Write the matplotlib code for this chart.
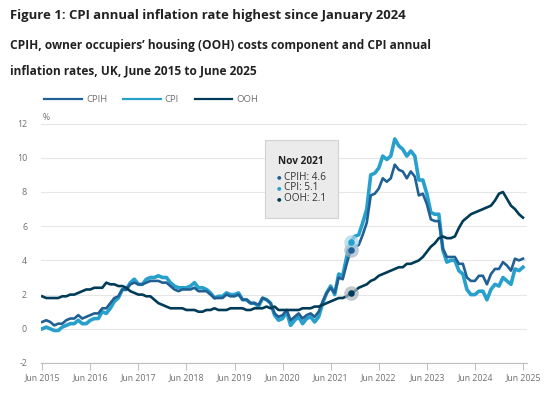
import numpy as np
import matplotlib
matplotlib.use("Agg")
import matplotlib.pyplot as plt
from matplotlib.lines import Line2D
from matplotlib.patches import Rectangle

plt.rcParams['font.family'] = ['Open Sans', 'DejaVu Sans']

# monthly values, Jun 2015 to Jun 2025
cpih = [0.4, 0.5, 0.4, 0.2, 0.3, 0.3, 0.5,
        0.6, 0.6, 0.8, 0.6, 0.7, 0.8, 0.9, 0.9, 1.2, 1.2, 1.5, 1.8,
        1.9, 2.3, 2.3, 2.6, 2.7, 2.6, 2.6, 2.7, 2.8, 2.8, 2.8, 2.7,
        2.7, 2.5, 2.3, 2.2, 2.3, 2.3, 2.3, 2.4, 2.2, 2.2, 2.2, 2.0,
        1.8, 1.8, 1.8, 2.0, 1.9, 1.9, 2.0, 1.7, 1.7, 1.5, 1.5, 1.4,
        1.8, 1.7, 1.5, 0.9, 0.7, 0.8, 1.1, 0.5, 0.7, 0.9, 0.6, 0.8,
        0.9, 0.7, 1.0, 1.6, 2.1, 2.4, 2.1, 3.0, 2.9, 3.8, 4.6, 4.8,
        4.9, 5.5, 6.2, 7.8, 7.9, 8.2, 8.8, 8.6, 8.8, 9.6, 9.3, 9.2,
        8.8, 9.2, 8.9, 7.8, 7.9, 7.3, 6.4, 6.3, 6.3, 4.7, 4.2, 4.2,
        4.2, 3.8, 3.8, 3.0, 2.8, 2.8, 3.1, 3.1, 2.6, 3.2, 3.5, 3.5,
        3.9, 3.7, 3.4, 4.1, 4.0, 4.1]
cpi = [0.0, 0.1, 0.0, -0.1, -0.1, 0.1, 0.2,
       0.3, 0.3, 0.5, 0.3, 0.3, 0.5, 0.6, 0.6, 1.0, 0.9, 1.2, 1.6,
       1.8, 2.3, 2.3, 2.7, 2.9, 2.6, 2.6, 2.9, 3.0, 3.0, 3.1, 3.0,
       3.0, 2.7, 2.5, 2.4, 2.4, 2.4, 2.5, 2.7, 2.4, 2.4, 2.3, 2.1,
       1.8, 1.9, 1.9, 2.1, 2.0, 2.0, 2.1, 1.7, 1.7, 1.5, 1.5, 1.3,
       1.8, 1.7, 1.5, 0.8, 0.5, 0.6, 1.0, 0.2, 0.5, 0.7, 0.3, 0.6,
       0.7, 0.4, 0.7, 1.5, 2.1, 2.5, 2.0, 3.2, 3.1, 4.2, 5.1, 5.4,
       5.5, 6.2, 7.0, 9.0, 9.1, 9.4, 10.1, 9.9, 10.1, 11.1, 10.7, 10.5,
       10.1, 10.4, 10.1, 8.7, 8.7, 7.9, 6.8, 6.7, 6.7, 4.6, 3.9, 4.0,
       4.0, 3.4, 3.2, 2.3, 2.0, 2.0, 2.2, 2.2, 1.7, 2.3, 2.6, 2.5,
       3.0, 2.8, 2.6, 3.5, 3.4, 3.6]
ooh = [1.9, 1.8, 1.8, 1.8, 1.8, 1.9, 1.9,
       2.0, 2.0, 2.1, 2.2, 2.3, 2.3, 2.4, 2.4, 2.4, 2.7, 2.6, 2.6,
       2.5, 2.5, 2.4, 2.2, 2.1, 2.0, 2.0, 1.9, 1.9, 1.7, 1.5, 1.4,
       1.3, 1.2, 1.2, 1.2, 1.2, 1.1, 1.1, 1.1, 1.0, 1.0, 1.1, 1.1,
       1.2, 1.1, 1.1, 1.1, 1.2, 1.2, 1.2, 1.2, 1.1, 1.1, 1.2, 1.2,
       1.2, 1.3, 1.2, 1.3, 1.1, 1.1, 1.1, 1.1, 1.1, 1.1, 1.2, 1.2,
       1.2, 1.3, 1.3, 1.4, 1.5, 1.6, 1.7, 1.8, 1.8, 1.9, 2.1, 2.2,
       2.4, 2.5, 2.6, 2.8, 2.9, 3.1, 3.2, 3.3, 3.4, 3.5, 3.6, 3.6,
       3.8, 3.8, 3.9, 4.0, 4.2, 4.5, 4.8, 5.0, 5.3, 5.4, 5.3, 5.3,
       5.4, 5.9, 6.3, 6.5, 6.7, 6.8, 6.9, 7.0, 7.1, 7.2, 7.5, 7.9,
       8.0, 7.6, 7.2, 7.0, 6.7, 6.5]

tick_labels = ["Jun %d" % y for y in range(2015, 2026)]
y_ticks = [-2, 0, 2, 4, 6, 8, 10, 12]

hover_idx = 77  # Nov 2021
hover_label = "Nov 2021"

c_cpih = "#206095"
c_cpi = "#27a0cc"
c_ooh = "#003c57"
grey = "#707070"

months = np.arange(len(cpi))

fig = plt.figure(figsize=(5.5, 3.97), dpi=100)
ax = fig.add_axes([41 / 550, 1 - 363 / 397, 486 / 550, 239.4 / 397])

ax.plot(months, cpi, color=c_cpi, lw=2.6, solid_joinstyle="round", zorder=3)
ax.plot(months, cpih, color=c_cpih, lw=1.9, solid_joinstyle="round", zorder=4)
ax.plot(months, ooh, color=c_ooh, lw=1.9, solid_joinstyle="round", zorder=5)

# hover markers
for vals, col, halo in [(cpih, c_cpih, "#9fb5c8"), (cpi, c_cpi, "#a8d6ea"), (ooh, c_ooh, "#a9b4bd")]:
    ax.scatter([hover_idx], [vals[hover_idx]], s=110, color=halo, alpha=0.7, zorder=6, linewidths=0)
    ax.scatter([hover_idx], [vals[hover_idx]], s=22, color=col, zorder=7, linewidths=0)

ax.set_xlim(-0.3, 121)
ax.set_ylim(-2, 12)
ax.set_yticks(y_ticks)
ax.set_yticklabels([str(v) for v in y_ticks])
ax.set_xticks(np.arange(0, 121, 12))
ax.set_xticklabels(tick_labels)
ax.grid(axis="y", color="#e6e6e6", lw=0.8)
ax.set_axisbelow(True)
for s in ["top", "right", "left"]:
    ax.spines[s].set_visible(False)
ax.spines["bottom"].set_color("#bdbdbd")
ax.spines["bottom"].set_linewidth(0.8)
ax.tick_params(axis="x", colors=grey, labelsize=6.3, length=5, width=0.7, color="#bdbdbd", pad=2.5)
ax.tick_params(axis="y", colors=grey, labelsize=6.4, length=0, pad=10)
ax.text(0, 12.1, "%", color=grey, fontsize=6.2, ha="left", va="bottom")

# titles
fig.text(10 / 550, 1 - 15 / 397, "Figure 1: CPI annual inflation rate highest since January 2024",
         fontsize=9.45, fontweight="bold", color="#222222", va="center")
fig.text(10 / 550, 1 - 46 / 397, "CPIH, owner occupiers\u2019 housing (OOH) costs component and CPI annual",
         fontsize=8.55, fontweight="bold", color="#222222", va="center")
fig.text(10 / 550, 1 - 71 / 397, "inflation rates, UK, June 2015 to June 2025",
         fontsize=8.55, fontweight="bold", color="#222222", va="center")

# legend
handles = [Line2D([], [], color=c_cpih, lw=1.6),
           Line2D([], [], color=c_cpi, lw=1.6),
           Line2D([], [], color=c_ooh, lw=1.6)]
leg = fig.legend(handles, ["CPIH", "CPI", "OOH"], loc="center left", ncol=3,
                 bbox_to_anchor=(44 / 550, 1 - 100 / 397), frameon=False, fontsize=6.8,
                 handlelength=4.0, handletextpad=0.45, columnspacing=1.65,
                 borderpad=0, borderaxespad=0)
for t in leg.get_texts():
    t.set_color(grey)

# tooltip box
fig.patches.append(Rectangle((265 / 550, 1 - 218 / 397), 73 / 550, 78 / 397,
                             transform=fig.transFigure, facecolor="#ebebeb",
                             edgecolor="#d2d2d2", lw=0.8, zorder=10))
fig.text(278 / 550, 1 - 162 / 397, hover_label, fontsize=7.3, fontweight="bold",
         color="#222222", va="center", zorder=11)
rows = [("CPIH", cpih, c_cpih), ("CPI", cpi, c_cpi), ("OOH", ooh, c_ooh)]
for i, (name, vals, col) in enumerate(rows):
    yy = 1 - (177 + 10.8 * i) / 397
    fig.text(277 / 550, yy, "\u25cf", fontsize=3.8, color=col, va="center", zorder=11)
    fig.text(284.5 / 550, yy, "%s: %.1f" % (name, vals[hover_idx]), fontsize=7.2,
             color="#333333", va="center", zorder=11)

fig.savefig("out.png", dpi=100)
